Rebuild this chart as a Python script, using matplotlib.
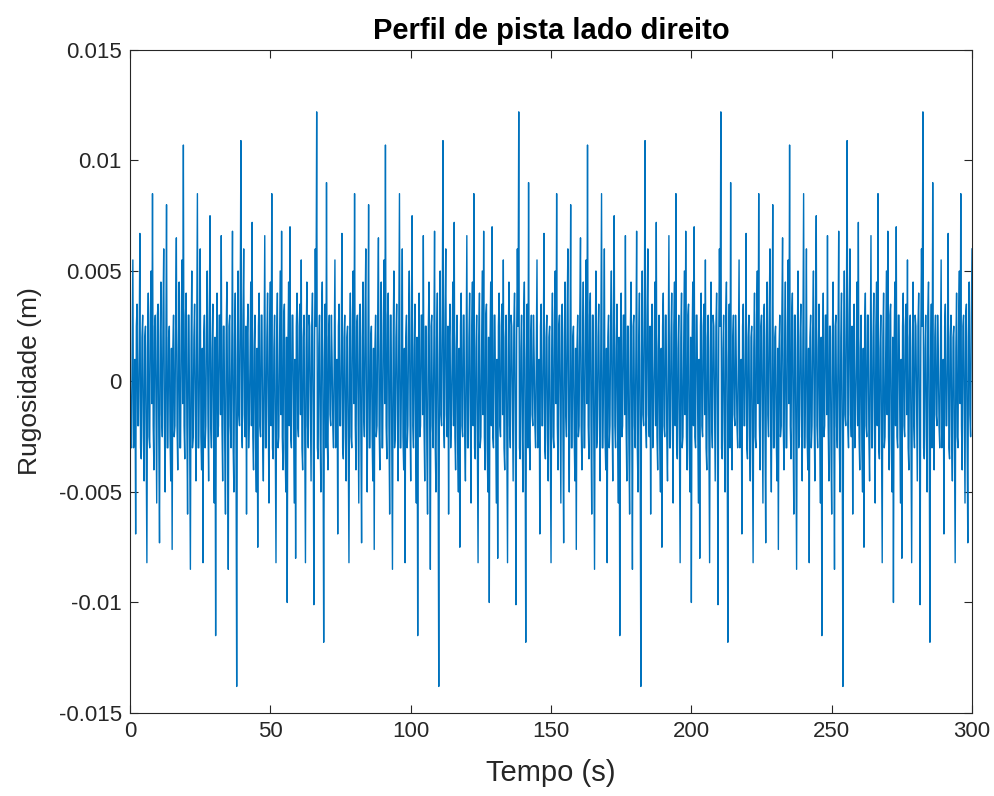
import matplotlib
matplotlib.use("Agg")
import matplotlib.pyplot as plt
import numpy as np

# one period of the right-side road profile (m)
# main samples every 0.5 s, starting at t = 0
period_main = [
    0.0010, -0.0030, 0.0055, -0.0025, -0.0069, 0.0035, -0.0020, 0.0067, -0.0035, 0.0030,
    -0.0045, 0.0025, -0.0082, 0.0040, -0.0030, 0.0050, 0.0085, -0.0040, 0.0030, -0.0055,
    0.0035, -0.0073, 0.0045, -0.0025, 0.0060, -0.0050, 0.0080, -0.0030, 0.0025, -0.0045,
    -0.0076, 0.0030, -0.0020, 0.0065, -0.0040, 0.0045, -0.0030, 0.0055, 0.0107, -0.0035,
    0.0040, -0.0060, 0.0030, -0.0085, 0.0050, -0.0025, 0.0035, -0.0045, 0.0085, -0.0030,
    0.0060, -0.0040, -0.0082, 0.0030, -0.0020, 0.0050, -0.0045, 0.0075, -0.0030, 0.0035,
    -0.0055, -0.0115, 0.0040, -0.0020, 0.0030, 0.0066, -0.0045, 0.0025, -0.0060, 0.0045,
    -0.0085, 0.0030, -0.0030, 0.0068, -0.0050, 0.0040, -0.0138, 0.0050, -0.0020, 0.0109,
    -0.0030, 0.0060, -0.0025, -0.0060, 0.0035, -0.0015, 0.0045, 0.0072, -0.0040, 0.0030,
    -0.0050, -0.0075, 0.0040, -0.0025, 0.0030, -0.0045, 0.0066, -0.0030, 0.0040, -0.0055,
    0.0045, 0.0085, -0.0035, 0.0030, -0.0082, 0.0040, -0.0025, 0.0050, 0.0068, -0.0040,
    0.0035, -0.0050, -0.0100, 0.0045, 0.0070, -0.0030, 0.0030, -0.0055, -0.0080, 0.0040,
    -0.0025, 0.0035, 0.0055, -0.0040, 0.0030, -0.0082, 0.0045, -0.0030, 0.0025, -0.0045,
    0.0040, -0.0101, 0.0060, 0.0122, -0.0035, 0.0030, -0.0050, 0.0045, -0.0118, 0.0035,
    0.0090, -0.0040, 0.0030, -0.0020,
]
# in-between samples (0.25 s after each main sample)
period_mid = [
    -0.0020, 0.0015, -0.0030, 0.0010, 0.0025, -0.0020, 0.0015, -0.0030, 0.0020, -0.0025,
    0.0020, -0.0030, 0.0015, -0.0025, 0.0030, -0.0010, -0.0020, 0.0025, -0.0015, 0.0030,
    -0.0025, 0.0020, -0.0015, 0.0030, -0.0020, 0.0010, -0.0030, 0.0020, -0.0025, 0.0015,
    0.0015, -0.0025, 0.0030, -0.0020, 0.0015, -0.0030, 0.0025, -0.0010, -0.0020, 0.0030,
    -0.0020, 0.0030, -0.0025, 0.0015, -0.0030, 0.0020, -0.0015, 0.0025, -0.0030, 0.0010,
    -0.0025, 0.0015, 0.0020, -0.0030, 0.0025, -0.0015, 0.0030, -0.0020, 0.0015, -0.0025,
    0.0020, 0.0010, -0.0025, 0.0030, -0.0015, -0.0020, 0.0025, -0.0030, 0.0020, -0.0015,
    0.0025, -0.0020, 0.0015, -0.0030, 0.0020, -0.0025, 0.0010, -0.0015, 0.0030, -0.0020,
    0.0030, -0.0015, 0.0025, 0.0020, -0.0030, 0.0010, -0.0020, -0.0025, 0.0015, -0.0030,
    0.0015, 0.0025, -0.0020, 0.0030, -0.0025, 0.0010, -0.0030, 0.0020, -0.0015, 0.0025,
    -0.0020, -0.0030, 0.0015, -0.0025, 0.0020, -0.0030, 0.0010, -0.0015, -0.0025, 0.0030,
    -0.0030, 0.0020, 0.0015, -0.0020, -0.0025, 0.0030, -0.0015, 0.0010, 0.0025, -0.0020,
    0.0025, -0.0015, -0.0030, 0.0020, -0.0025, 0.0015, -0.0020, 0.0030, -0.0010, 0.0025,
    -0.0015, 0.0020, 0.0025, -0.0030, 0.0015, -0.0025, 0.0030, -0.0020, 0.0010, -0.0030,
    -0.0025, 0.0020, -0.0015, 0.0030,
]
dt = 0.25
t_end = 300

x_ticks = [0, 50, 100, 150, 200, 250, 300]
y_ticks = [-0.015, -0.01, -0.005, 0, 0.005, 0.01, 0.015]
y_tick_labels = ["-0.015", "-0.01", "-0.005", "0", "0.005", "0.01", "0.015"]

# interleave main/mid samples, then repeat the period over the run
one_period = np.column_stack([period_main, period_mid]).ravel()
n = int(t_end / dt) + 1
reps = n // len(one_period) + 1
rug = np.tile(one_period, reps)[:n]
tempo = np.arange(n) * dt

plt.rcParams["font.family"] = ["Liberation Sans", "DejaVu Sans"]
fig = plt.figure(figsize=(9.95, 7.96), dpi=100)
ax = fig.add_axes([0.1307, 0.1043, 0.8462, 0.8329])

ax.plot(tempo, rug, color="#0072BD", linewidth=1.0)

ax.set_xlim(0, 300)
ax.set_ylim(-0.015, 0.015)
ax.set_xticks(x_ticks)
ax.set_yticks(y_ticks)
ax.set_yticklabels(y_tick_labels)
ax.tick_params(direction="in", length=6, width=0.8, top=True, right=True,
               labelsize=16, colors="#262626", pad=6)
for s in ax.spines.values():
    s.set_color("#262626")
    s.set_linewidth(0.8)

ax.set_title("Perfil de pista lado direito", fontsize=21, fontweight="bold", pad=8)
ax.set_xlabel("Tempo (s)", fontsize=21, color="#262626", labelpad=12)
ax.set_ylabel("Rugosidade (m)", fontsize=19, color="#262626", labelpad=12)

fig.savefig("out.png", dpi=100)
